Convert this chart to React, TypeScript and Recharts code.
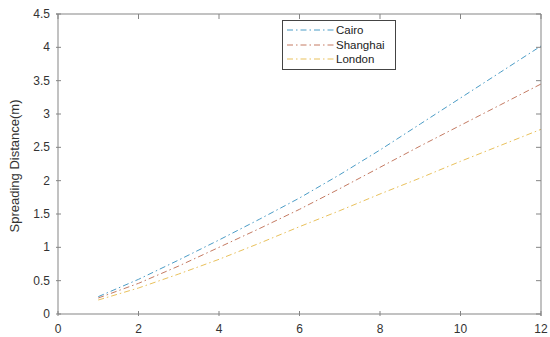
import React from 'react';
import { LineChart, Line, XAxis, YAxis } from 'recharts';

const months = [1, 2, 3, 4, 5, 6, 7, 8, 9, 10, 11, 12];
const cairo = [0.26, 0.52, 0.81, 1.11, 1.42, 1.74, 2.09, 2.46, 2.85, 3.24, 3.63, 4.02];
const shanghai = [0.24, 0.46, 0.72, 1.0, 1.28, 1.57, 1.88, 2.2, 2.52, 2.83, 3.14, 3.45];
const london = [0.21, 0.39, 0.6, 0.82, 1.06, 1.31, 1.55, 1.8, 2.04, 2.29, 2.53, 2.77];
const xTicks = [0, 2, 4, 6, 8, 10, 12];
const yTicks = [0, 0.5, 1, 1.5, 2, 2.5, 3, 3.5, 4, 4.5];

const data = months.map((m, i) => ({
    month: m,
    Cairo: cairo[i],
    Shanghai: shanghai[i],
    London: london[i],
}));

const series = [
    { key: 'Cairo', color: '#4b9cc6' },
    { key: 'Shanghai', color: '#c47a62' },
    { key: 'London', color: '#e9c15c' },
];

const AXIS = '#858585';
const FONT = '"Liberation Sans", Arial, sans-serif';
const DASH = '6 3 1.5 3';
// plot box edges, used to mirror ticks on the top and right sides (MATLAB box on)
const PLOT_TOP = 14;
const PLOT_RIGHT = 541;

const BottomTick = (props: any) => {
    const { x, y, payload } = props;
    const last = payload.value === xTicks[xTicks.length - 1];
    return (
        <g>
            <line x1={x} y1={y} x2={x} y2={y - 5} stroke={AXIS} />
            <line x1={x} y1={PLOT_TOP} x2={x} y2={PLOT_TOP + 5} stroke={AXIS} />
            {last && <line x1={x} y1={PLOT_TOP} x2={x} y2={y} stroke={AXIS} />}
            <text x={x} y={y + 17} textAnchor="middle" fontSize={12} fill="#333" fontFamily={FONT}>
                {payload.value}
            </text>
        </g>
    );
};

const LeftTick = (props: any) => {
    const { x, y, payload } = props;
    const last = payload.value === yTicks[yTicks.length - 1];
    return (
        <g>
            <line x1={x} y1={y} x2={x + 5} y2={y} stroke={AXIS} />
            <line x1={PLOT_RIGHT} y1={y} x2={PLOT_RIGHT - 5} y2={y} stroke={AXIS} />
            {last && <line x1={x} y1={y} x2={PLOT_RIGHT} y2={y} stroke={AXIS} />}
            <text x={x - 6} y={y + 4} textAnchor="end" fontSize={12} fill="#333" fontFamily={FONT}>
                {payload.value}
            </text>
        </g>
    );
};

const LegendBox = () => (
    <div
        style={{
            position: 'absolute',
            left: 282,
            top: 20,
            border: '1px solid #444',
            background: '#fff',
            width: 112,
            padding: '2px 0',
            fontFamily: FONT,
            fontSize: 11.5,
            color: '#222',
        }}
    >
        {series.map((s) => (
            <div key={s.key} style={{ display: 'flex', alignItems: 'center', height: 14.5 }}>
                <svg width={53} height={10}>
                    <line x1={4} y1={5} x2={51} y2={5} stroke={s.color} strokeDasharray={DASH} />
                </svg>
                <span>{s.key}</span>
            </div>
        ))}
    </div>
);

export default function App() {
    return (
        <div style={{ position: 'absolute', left: 0, top: 0, width: 550, height: 337, background: '#fff' }}>
            <LineChart width={550} height={337} data={data} margin={{ top: PLOT_TOP, right: 550 - PLOT_RIGHT, bottom: 0, left: 0 }}>
                <XAxis
                    dataKey="month"
                    type="number"
                    domain={[0, 12]}
                    ticks={xTicks}
                    height={23}
                    tickSize={0}
                    tickLine={false}
                    axisLine={{ stroke: AXIS }}
                    tick={<BottomTick />}
                />
                <YAxis
                    type="number"
                    domain={[0, 4.5]}
                    ticks={yTicks}
                    width={58}
                    tickSize={0}
                    tickLine={false}
                    axisLine={{ stroke: AXIS }}
                    tick={<LeftTick />}
                    label={{
                        value: 'Spreading Distance(m)',
                        angle: -90,
                        position: 'center',
                        dx: -15,
                        dy: 2,
                        fontSize: 13,
                        fill: '#333',
                        fontFamily: FONT,
                    }}
                />
                {series.map((s) => (
                    <Line
                        key={s.key}
                        type="linear"
                        dataKey={s.key}
                        stroke={s.color}
                        strokeWidth={1}
                        strokeDasharray={DASH}
                        dot={false}
                        isAnimationActive={false}
                    />
                ))}
            </LineChart>
            <LegendBox />
        </div>
    );
}
